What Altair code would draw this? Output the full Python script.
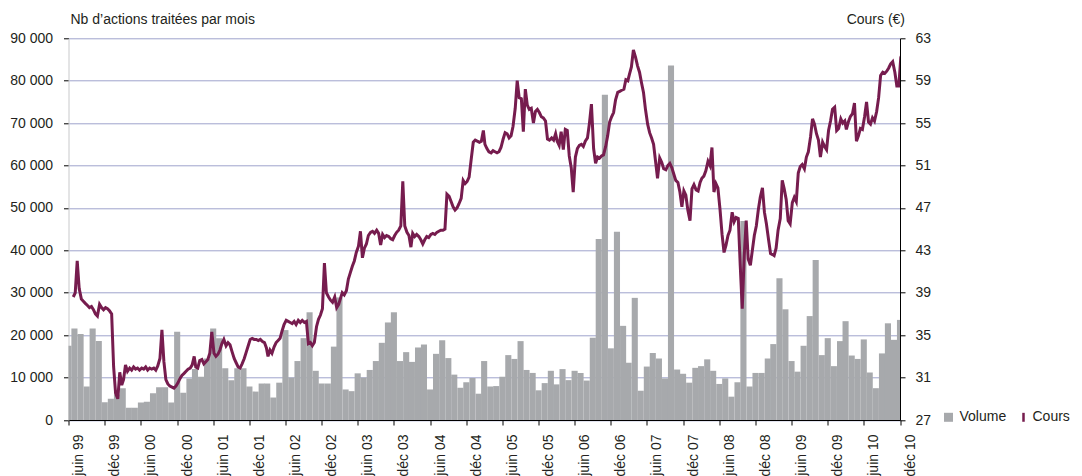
import altair as alt
import pandas as pd

# ---------------- data ----------------
mois = pd.date_range("1999-06-01", "2010-12-01", freq="MS")  # 139 months

volume = [
    17500, 21600, 20300, 7900, 21600, 18600, 4200, 5000, 6000, 7500,
    2900, 2900, 4100, 4300, 6300, 7700, 7700, 4100, 20800, 6400,
    9800, 12000, 10200, 14500, 21600, 19300, 12200, 9400, 12200, 12200,
    7900, 6700, 8600, 8600, 5300, 8800, 21200, 10000, 13900, 19300,
    25400, 11600, 8600, 8600, 17300, 28900, 7200, 6800, 11000, 10000,
    11800, 13900, 18200, 23000, 25400, 13900, 16000, 13700, 17100, 17800,
    7200, 15600, 18800, 14600, 10700, 7600, 8900, 9900, 6200, 13900,
    7900, 8000, 10200, 15300, 14400, 18600, 11800, 11100, 7000, 8700,
    11600, 8400, 12000, 9400, 11600, 11100, 9300, 19400, 42700, 76700,
    16900, 44400, 22200, 13500, 28800, 6900, 12600, 15800, 14500, 9800,
    83600, 11900, 10900, 8800, 12300, 12700, 14300, 11600, 8500, 9800,
    5500, 8900, 46900, 7900, 11100, 11100, 14500, 17900, 33400, 26100,
    13900, 11400, 17500, 24500, 37700, 15300, 19300, 12700, 18600, 23300,
    15200, 14400, 19000, 11200, 7500, 15700, 22800, 18900, 23600,
]

# share price, three readings per month (around the 5th, 15th and 25th)
cours_1999 = [None, None, 38.6, 39.0, 42.0, 39.4, 38.4, 38.2, 38.0, 37.8, 37.6, 37.7,
              37.4, 37.0, 36.8, 37.9, 37.6, 37.4, 37.6, 37.5, 37.3]
cours_2000 = [37.0, 32.0, 29.5, 29.0, 31.5, 30.3, 30.8, 32.2, 31.6, 31.9, 31.7, 32.0,
              31.8, 31.9, 31.7, 31.9, 31.8, 32.0, 31.7, 31.9, 31.8, 31.9, 31.7, 32.1,
              32.8, 35.5, 32.5, 30.8, 30.4, 30.2, 30.1, 30.0, 30.2, 30.5, 30.9, 31.2]
cours_2001 = [31.4, 31.6, 31.8, 31.9, 32.2, 33.0, 32.0, 31.9, 32.6, 32.7, 32.3, 32.5,
              32.7, 33.3, 35.3, 33.3, 33.0, 33.2, 33.6, 34.2, 34.6, 34.0, 34.3, 34.1,
              33.4, 32.8, 32.4, 32.0, 31.9, 32.3, 32.8, 33.4, 34.0, 34.6, 34.7, 34.6]
cours_2002 = [34.6, 34.5, 34.6, 34.4, 34.3, 33.8, 33.0, 33.6, 33.3, 33.9, 34.3, 34.5,
              34.7, 35.4, 36.0, 36.4, 36.3, 36.2, 36.1, 36.3, 36.0, 36.4, 36.2, 36.4,
              36.2, 36.3, 34.2, 34.3, 34.0, 34.3, 35.8, 36.5, 36.9, 37.5, 41.8, 39.0]
cours_2003 = [38.6, 38.3, 38.1, 38.6, 37.6, 37.9, 38.4, 39.0, 38.8, 39.2, 40.3, 40.9,
              41.5, 42.0, 42.8, 43.4, 44.8, 42.3, 43.2, 43.6, 44.4, 44.7, 44.8, 44.6,
              44.9, 44.6, 43.5, 44.5, 44.2, 44.4, 44.3, 44.1, 44.0, 44.4, 44.7, 44.9]
cours_2004 = [45.3, 49.5, 45.3, 44.7, 44.4, 43.3, 44.6, 44.3, 44.5, 44.3, 44.0, 43.6,
              44.0, 44.3, 44.2, 44.5, 44.6, 44.5, 44.7, 44.8, 44.9, 44.9, 45.0, 48.3,
              48.1, 47.6, 47.1, 46.8, 47.0, 47.4, 47.9, 49.6, 49.3, 49.5, 49.9, 51.5]
cours_2005 = [53.2, 53.4, 53.3, 53.2, 53.3, 54.3, 53.0, 52.6, 52.3, 52.2, 52.4, 52.3,
              52.2, 52.3, 52.7, 53.5, 54.1, 54.0, 53.6, 53.8, 54.7, 56.4, 59.0, 57.4,
              57.3, 54.2, 58.2, 56.7, 56.3, 56.4, 55.0, 56.1, 56.3, 56.0, 55.6, 55.5]
cours_2006 = [55.2, 53.5, 53.4, 53.6, 53.4, 54.0, 53.3, 52.9, 54.2, 52.5, 54.4, 54.3,
              51.9, 50.8, 48.5, 51.8, 52.6, 52.9, 53.0, 52.8, 53.3, 53.6, 55.0, 56.8,
              52.6, 51.2, 51.8, 51.7, 51.9, 52.0, 52.8, 53.8, 55.1, 55.6, 56.0, 57.2]
cours_2007 = [57.9, 58.0, 58.1, 58.2, 59.1, 59.0, 59.6, 60.3, 61.9, 61.2, 60.4, 59.8,
              58.8, 57.9, 56.3, 54.9, 54.1, 53.6, 53.0, 51.4, 49.8, 51.7, 51.3, 50.7,
              50.6, 51.0, 51.2, 50.8, 50.2, 49.6, 49.4, 48.5, 47.1, 48.6, 48.2, 46.8]
cours_2008 = [45.8, 48.8, 49.2, 48.7, 48.6, 49.4, 49.8, 50.0, 50.5, 51.4, 51.0, 52.7,
              48.5, 49.3, 48.9, 46.8, 44.5, 42.8, 43.5, 44.4, 44.9, 46.6, 45.7, 46.1,
              46.0, 41.5, 37.5, 42.5, 45.8, 42.2, 41.6, 43.0, 44.4, 45.3, 46.8, 48.0]
cours_2009 = [48.9, 46.6, 45.5, 44.0, 42.7, 42.6, 42.5, 43.2, 44.9, 46.0, 49.6, 48.8,
              47.8, 45.8, 45.5, 47.5, 48.0, 47.6, 50.3, 50.9, 51.1, 50.7, 51.8, 52.3,
              53.7, 55.4, 54.9, 54.0, 53.4, 51.8, 53.2, 52.8, 52.5, 54.3, 55.2, 56.3]
cours_2010 = [56.5, 54.3, 54.5, 55.4, 55.0, 55.2, 54.4, 55.1, 55.6, 55.9, 56.9, 53.3,
              53.8, 54.5, 54.4, 55.6, 57.0, 55.1, 54.9, 55.5, 55.2, 56.1, 57.4, 59.5,
              59.8, 59.7, 59.9, 60.2, 60.6, 60.8, 59.8, 58.5, 58.5, 61.2, 61.6, None]

cours = (cours_1999 + cours_2000 + cours_2001 + cours_2002 + cours_2003 + cours_2004
         + cours_2005 + cours_2006 + cours_2007 + cours_2008 + cours_2009 + cours_2010)

ticks_volume = list(range(0, 90001, 10000))
ticks_cours = [27, 31, 35, 39, 43, 47, 51, 55, 59, 63]
ticks_dates = []
for an in range(1999, 2011):
    ticks_dates.append(alt.DateTime(year=an, month=6, date=1))
    ticks_dates.append(alt.DateTime(year=an, month=12, date=1))

# ---------------- tables ----------------
df_vol = pd.DataFrame({"date": mois, "volume": volume})
df_vol["debut"] = df_vol["date"] - pd.Timedelta(days=15.4)
df_vol["fin"] = df_vol["date"] + pd.Timedelta(days=15.4)
df_vol["serie"] = "Volume"

jours = [m + pd.Timedelta(days=d) for m in mois for d in (4, 14, 24)]
df_cours = pd.DataFrame({"date": jours, "cours": cours}).dropna()
df_cours["serie"] = "Cours"

GRIS = "#a7a9ac"
POURPRE = "#761c4e"
TEXTE = "#231f20"
GRILLE = "#9ea3cc"

x_scale = alt.Scale(domain=[alt.DateTime(year=1999, month=6, date=1),
                            alt.DateTime(year=2010, month=12, date=1)])
x_axis = alt.Axis(
    values=ticks_dates,
    labelExpr="(month(datum.value) == 5 ? 'juin ' : 'déc ') + timeFormat(datum.value, '%y')",
    labelAngle=-90, labelAlign="right", labelBaseline="alphabetic",
    labelOffset=14, labelPadding=9, labelFontSize=14, labelColor=TEXTE,
    labelOverlap=False, tickSize=5, tickColor="#000", domainColor="#000",
    grid=False, title=None,
)

barres = alt.Chart(df_vol).mark_bar(clip=True).encode(
    x=alt.X("debut:T", scale=x_scale, axis=x_axis),
    x2="fin:T",
    y=alt.Y("volume:Q",
            scale=alt.Scale(domain=[0, 90000], nice=False),
            axis=alt.Axis(
                values=ticks_volume,
                labelExpr="replace(format(datum.value, ','), ',', ' ')",
                grid=True, gridColor=GRILLE, gridWidth=1,
                domainColor="#c8c9cb", tickColor="#000", tickSize=5,
                labelPadding=11, labelFontSize=14, labelColor=TEXTE,
                title="Nb d’actions traitées par mois", titleAngle=0,
                titleAlign="left", titleBaseline="alphabetic",
                titleX=1.5, titleY=-15, titleFontSize=14,
                titleFontWeight="normal", titleColor=TEXTE,
            )),
    y2=alt.datum(0),
    fill=alt.Fill("serie:N", scale=alt.Scale(domain=["Volume"], range=[GRIS]),
                  legend=alt.Legend(title=None, orient="none", legendX=873, legendY=372,
                                    symbolType="square", symbolSize=81,
                                    symbolStrokeWidth=0, labelFontSize=14,
                                    labelColor=TEXTE, labelOffset=4, padding=0)),
)

ligne = alt.Chart(df_cours).mark_line(clip=True, strokeWidth=3).encode(
    x=alt.X("date:T", scale=x_scale, axis=x_axis),
    y=alt.Y("cours:Q",
            scale=alt.Scale(domain=[27, 63], nice=False),
            axis=alt.Axis(
                orient="right", values=ticks_cours, grid=False,
                domainColor="#000", tickColor="#000", tickSize=5,
                labelPadding=10, labelFontSize=14, labelColor=TEXTE,
                title="Cours (€)", titleAngle=0, titleAlign="right",
                titleBaseline="alphabetic", titleX=4.5, titleY=-15,
                titleFontSize=14, titleFontWeight="normal", titleColor=TEXTE,
            )),
    stroke=alt.Stroke("serie:N", scale=alt.Scale(domain=["Cours"], range=[POURPRE]),
                      legend=alt.Legend(title=None, orient="none", legendX=948, legendY=372,
                                        symbolType="M0,-2L0,2", symbolSize=20,
                                        symbolStrokeWidth=2.5, labelFontSize=14,
                                        labelColor=TEXTE, labelOffset=2, padding=0)),
)

chart = alt.layer(barres, ligne).resolve_scale(
    y="independent", fill="independent", stroke="independent"
).properties(
    width=831.5, height=381.7,
    autosize=alt.AutoSizeParams(type="none"),
    padding={"left": 60.5, "top": 30.3, "right": 174, "bottom": 56},
).configure(
    font="Liberation Sans",
).configure_view(stroke=None)

chart.save("out.html", embed_options={"renderer": "svg", "actions": False})
